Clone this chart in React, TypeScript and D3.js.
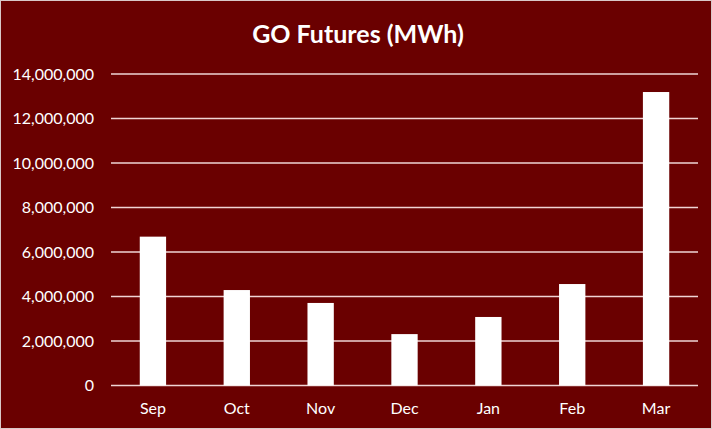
import React, { useRef, useEffect } from 'react';
import * as d3 from 'd3';

const months = ['Sep', 'Oct', 'Nov', 'Dec', 'Jan', 'Feb', 'Mar'];
const volumes = [6690000, 4290000, 3710000, 2310000, 3080000, 4560000, 13190000];
const yTicks = [0, 2000000, 4000000, 6000000, 8000000, 10000000, 12000000, 14000000];

const width = 712;
const height = 429;
const bg = '#6a0000';

const App: React.FC = () => {
  const svgRef = useRef<SVGSVGElement | null>(null);

  useEffect(() => {
    if (!svgRef.current) return;
    const svg = d3.select(svgRef.current);
    svg.selectAll('*').remove();

    const margin = { top: 74, right: 14, bottom: 43.5, left: 111 };
    const plotWidth = width - margin.left - margin.right;
    const plotHeight = height - margin.top - margin.bottom;

    // background + thin outer border
    svg.append('rect')
      .attr('x', 0.5).attr('y', 0.5)
      .attr('width', width - 1).attr('height', height - 1)
      .attr('fill', bg)
      .attr('stroke', '#d9c8c8')
      .attr('stroke-width', 1);

    const x = d3.scaleBand()
      .domain(months)
      .range([0, plotWidth])
      .paddingInner(0.686)
      .paddingOuter(0.343);

    const y = d3.scaleLinear()
      .domain([0, 14000000])
      .range([plotHeight, 0]);

    const g = svg.append('g')
      .attr('transform', `translate(${margin.left}, ${margin.top})`);

    // gridlines
    g.selectAll('.grid-line')
      .data(yTicks)
      .enter()
      .append('line')
      .attr('class', 'grid-line')
      .attr('x1', 0)
      .attr('x2', plotWidth)
      .attr('y1', d => y(d))
      .attr('y2', d => y(d))
      .attr('stroke', '#f0d4d4')
      .attr('stroke-width', 1.5);

    // bars
    g.selectAll('.bar')
      .data(months)
      .enter()
      .append('rect')
      .attr('class', 'bar')
      .attr('x', d => x(d)!)
      .attr('width', x.bandwidth())
      .attr('y', (d, i) => y(volumes[i]))
      .attr('height', (d, i) => plotHeight - y(volumes[i]))
      .attr('fill', '#ffffff');

    // y axis labels
    const fmt = d3.format(',');
    g.selectAll('.y-label')
      .data(yTicks)
      .enter()
      .append('text')
      .attr('class', 'y-label')
      .attr('x', -17)
      .attr('y', d => y(d))
      .attr('dy', '0.36em')
      .attr('text-anchor', 'end')
      .attr('fill', '#ffffff')
      .attr('font-family', 'Lato, sans-serif')
      .attr('font-size', '16px')
      .text(d => fmt(d));

    // x axis labels
    g.selectAll('.x-label')
      .data(months)
      .enter()
      .append('text')
      .attr('class', 'x-label')
      .attr('x', d => x(d)! + x.bandwidth() / 2)
      .attr('y', plotHeight + 28)
      .attr('text-anchor', 'middle')
      .attr('fill', '#ffffff')
      .attr('font-family', 'Lato, sans-serif')
      .attr('font-size', '16px')
      .text(d => d);

    // title
    svg.append('text')
      .attr('x', 358)
      .attr('y', 43)
      .attr('text-anchor', 'middle')
      .attr('fill', '#ffffff')
      .attr('font-family', 'Lato, sans-serif')
      .attr('font-weight', 'bold')
      .attr('font-size', '25px')
      .text('GO Futures (MWh)');
  }, []);

  return (
    <svg ref={svgRef} width={width} height={height}
      style={{ position: 'absolute', left: 0, top: 0, display: 'block' }} />
  );
};

export default App;
